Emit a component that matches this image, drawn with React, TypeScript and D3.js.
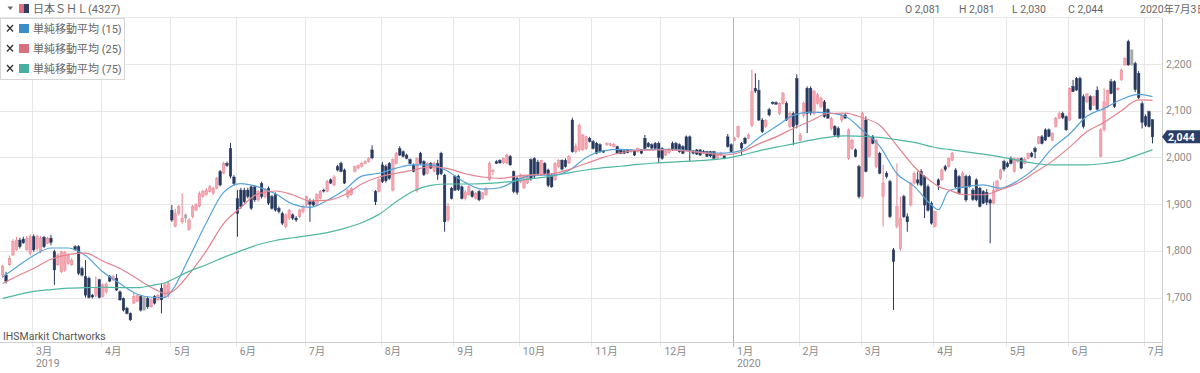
import React from "react";
import * as d3 from "d3";

type OHLC = [number, number, number, number]; // open, high, low, close

const feb2019: OHLC[] = [
  [1748,1770,1742,1766],[1748,1755,1730,1735],[1770,1790,1768,1784],[1791,1825,1789,1820],
  [1802,1830,1800,1823],[1823,1828,1805,1809],[1825,1830,1815,1817],[1802,1832,1800,1827],
  [1795,1835,1790,1830],
];
const mar2019: OHLC[] = [
  [1830,1835,1798,1802],[1805,1834,1800,1830],[1798,1832,1795,1827],[1829,1832,1806,1809],
  [1816,1830,1814,1827],[1827,1834,1812,1818],[1798,1802,1727,1759],[1770,1795,1768,1791],
  [1755,1800,1752,1798],[1759,1800,1755,1797],[1773,1795,1770,1791],[1770,1784,1768,1780],
  [1809,1812,1800,1802],[1809,1812,1748,1752],[1762,1766,1745,1748],[1745,1780,1700,1705],
  [1741,1745,1698,1700],[1705,1708,1698,1701],[1705,1745,1700,1720],[1738,1740,1698,1700],
];
const apr2019: OHLC[] = [
  [1702,1730,1700,1727],[1712,1732,1708,1729],[1745,1748,1733,1735],[1738,1748,1735,1745],
  [1741,1750,1714,1716],[1712,1715,1693,1695],[1698,1700,1670,1673],[1677,1680,1664,1666],
  [1666,1668,1650,1652],[1688,1710,1686,1702],[1692,1705,1690,1704],[1702,1705,1670,1673],
  [1700,1702,1672,1673],[1698,1702,1676,1680],[1680,1698,1678,1695],[1702,1705,1685,1688],
  [1695,1708,1692,1705],[1720,1730,1666,1695],[1702,1732,1700,1727],[1705,1735,1700,1730],
];
const may2019: OHLC[] = [
  [1887,1898,1862,1866],[1852,1890,1850,1880],[1880,1898,1876,1895],[1862,1923,1858,1870],
  [1877,1880,1860,1870],[1845,1870,1843,1866],[1873,1898,1870,1895],[1887,1902,1885,1898],
  [1895,1927,1893,1923],[1916,1930,1914,1927],[1920,1934,1918,1930],[1927,1941,1925,1937],
  [1923,1937,1920,1934],[1934,1958,1932,1955],[1970,1973,1938,1941],[1966,1991,1964,1987],
  [1987,1991,1980,1983],[2019,2031,1955,1960],[1958,1962,1940,1944],
];
const jun2019: OHLC[] = [
  [1912,1930,1830,1880],[1930,1935,1890,1895],[1930,1935,1902,1905],[1930,1935,1912,1916],
  [1937,1940,1888,1891],[1937,1940,1905,1909],[1909,1930,1905,1927],[1944,1948,1912,1916],
  [1916,1934,1912,1930],[1934,1938,1898,1902],[1916,1920,1888,1891],[1920,1925,1884,1887],
  [1891,1895,1880,1884],[1880,1884,1855,1859],[1852,1880,1848,1877],[1870,1890,1866,1887],
  [1877,1880,1866,1870],[1870,1874,1862,1866],[1873,1890,1870,1887],[1884,1898,1880,1895],
];
const jul2019: OHLC[] = [
  [1898,1918,1895,1916],[1905,1912,1862,1900],[1905,1910,1895,1898],[1898,1923,1895,1920],
  [1912,1930,1910,1927],[1930,1933,1925,1928],[1927,1952,1925,1948],[1952,1955,1943,1945],
  [1941,1962,1938,1958],[1980,1984,1970,1973],[1987,1991,1968,1970],[1973,1976,1943,1945],
  [1916,1932,1912,1930],[1920,1936,1918,1934],[1970,1982,1968,1980],[1977,1985,1975,1983],
  [1980,1990,1978,1987],[1987,1994,1985,1991],[1991,2000,1989,1998],[2016,2026,1996,1999],
  [1927,1930,1898,1905],[1927,1955,1925,1952],
];
const aug2019: OHLC[] = [
  [1984,1990,1945,1948],[1980,1985,1946,1950],[1987,1990,1952,1955],[1930,1998,1927,1995],
  [1987,2012,1985,2009],[2019,2024,2003,2005],[2012,2015,2000,2002],[2005,2008,1996,1998],
  [1995,1998,1985,1987],[1984,1987,1968,1970],[1930,2000,1925,1998],[2009,2012,1985,1987],
  [1991,1994,1960,1963],[1966,1990,1963,1987],[1987,1990,1975,1977],[1970,1991,1968,1988],
  [1987,1995,1952,1963],[2009,2012,1962,1965],[1962,1965,1841,1862],[1866,1902,1862,1895],
  [1934,1937,1910,1912],
];
const sep2019: OHLC[] = [
  [1959,1962,1928,1930],[1960,1963,1928,1931],[1937,1940,1910,1912],[1912,1930,1908,1926],
  [1920,1940,1918,1937],[1927,1930,1914,1916],[1912,1926,1910,1923],[1927,1930,1906,1909],
  [1912,1926,1910,1924],[1920,1936,1918,1934],[1952,1991,1950,1987],[1970,1975,1962,1972],
  [1991,1994,1986,1987],[1994,1996,1987,1988],[1988,2000,1986,1998],[1988,2008,1986,2005],
  [2002,2005,1982,1984],[1970,1972,1923,1927],[1955,1958,1920,1925],
];
const oct2019: OHLC[] = [
  [1948,1965,1945,1962],[1935,1962,1932,1960],[1945,1962,1943,1958],[1995,1998,1950,1955],
  [1998,2000,1955,1960],[1990,1995,1960,1965],[1962,1995,1960,1994],[1987,1990,1962,1965],
  [1973,1976,1936,1940],[1962,1966,1935,1937],[1952,1990,1950,1987],[1980,1996,1978,1994],
  [1994,1996,1972,1975],[1994,1998,1978,1980],[1988,2005,1986,2002],[2080,2085,2010,2012],
  [2012,2030,2008,2023],[2016,2072,2012,2069],[2016,2050,2014,2048],[2019,2046,2016,2044],
  [2041,2044,2032,2034],
];
const nov2019: OHLC[] = [
  [2034,2037,2017,2019],[2030,2033,2007,2009],[2027,2030,2010,2012],[2014,2016,2010,2011],
  [2027,2032,2025,2030],[2026,2031,2024,2029],[2023,2031,2021,2028],[2023,2025,2007,2009],
  [2016,2018,2007,2008],[2014,2016,2007,2009],[2016,2018,2009,2010],[2012,2018,2010,2016],
  [2014,2016,2003,2005],[2012,2021,2010,2019],[2016,2018,2007,2009],[2041,2048,2017,2019],
  [2030,2033,2021,2023],[2027,2030,2017,2020],[2030,2033,2017,2019],[2030,2034,1988,2000],
];
const dec2019: OHLC[] = [
  [2019,2022,1995,1998],[2005,2016,2003,2012],[2010,2020,2008,2016],[2030,2034,2014,2017],
  [2030,2033,2014,2016],[2027,2030,2010,2012],[2023,2026,2007,2009],[2044,2047,2014,2016],
  [2044,2047,1991,2012],[2014,2016,2007,2009],[2016,2018,2005,2007],[2016,2018,2003,2005],
  [2012,2016,2008,2010],[2012,2014,2001,2002],[2012,2014,2000,2003],[2012,2014,1996,1998],
  [1998,2010,1996,2005],[2005,2012,2002,2009],[2003,2005,1996,1998],[2044,2050,2021,2023],
  [2027,2030,2010,2012],
];
const jan2020: OHLC[] = [
  [2037,2044,2035,2041],[2044,2068,2042,2066],[2030,2033,2005,2020],[2041,2044,2028,2030],
  [2041,2052,2039,2048],[2069,2188,2065,2141],[2148,2180,2138,2142],[2144,2166,2078,2080],
  [2080,2084,2052,2055],[2066,2082,2063,2079],[2102,2106,2088,2091],[2118,2120,2113,2115],
  [2117,2120,2113,2114],[2094,2118,2090,2116],[2116,2140,2113,2137],[2116,2120,2078,2080],
  [2066,2098,2063,2094],[2094,2098,2026,2066],[2169,2178,2062,2070],
];
const feb2020: OHLC[] = [
  [2037,2052,2035,2048],[2090,2120,2085,2115],[2148,2152,2052,2094],[2148,2152,2090,2095],
  [2094,2145,2090,2141],[2116,2138,2113,2134],[2109,2130,2105,2127],[2119,2123,2085,2087],
  [2102,2105,2083,2084],[2062,2087,2058,2083],[2066,2069,2045,2048],[2062,2066,2042,2044],
  [2080,2095,2075,2090],[2091,2094,2083,2084],[1998,2062,1995,2059],[2019,2040,2016,2037],
  [2016,2019,2000,2002],[1980,1984,1912,1916],
];
const mar2020: OHLC[] = [
  [1916,2098,1912,2094],[2080,2088,1968,1970],[2002,2046,2000,2044],[2044,2048,2028,2030],
  [1980,2040,1977,2037],[2009,2012,1964,1966],[1916,1984,1852,1945],[1966,1970,1955,1959],
  [1948,1952,1870,1873],[1802,1806,1673,1777],[1852,1987,1848,1895],[1805,1916,1800,1870],
  [1916,1920,1870,1873],[1873,1880,1841,1862],[1898,1948,1895,1945],[1945,1970,1942,1966],
  [1952,1970,1940,1945],[1970,1975,1938,1941],[1959,1962,1870,1898],[1937,1942,1884,1887],
  [1902,1906,1856,1859],
];
const apr2020: OHLC[] = [
  [1852,1886,1850,1884],[1952,1955,1930,1941],[1952,1976,1950,1973],[1980,1984,1970,1974],
  [1980,2000,1978,1998],[1994,2012,1992,2009],[1973,1977,1934,1937],[1959,1962,1920,1923],
  [1937,1970,1935,1966],[1959,1963,1905,1909],[1959,1962,1935,1937],[1930,1934,1907,1910],
  [1952,1955,1906,1909],[1934,1937,1893,1895],[1927,1930,1900,1902],[1925,1932,1898,1904],
  [1909,1912,1816,1902],[1902,1948,1900,1930],[1930,1952,1928,1948],[1955,1975,1952,1973],
  [1991,1995,1970,1975],
];
const may2020: OHLC[] = [
  [1987,1991,1978,1980],[1998,2002,1985,1987],[1970,2000,1968,1998],[1991,2000,1989,1997],
  [1998,2000,1975,1977],[1987,2000,1985,1996],[1998,2010,1996,2009],[2009,2012,2000,2002],
  [2019,2023,1998,2012],[2030,2046,2028,2044],[2044,2048,2028,2030],[2059,2062,2035,2037],
  [2059,2062,2043,2045],[2037,2054,2035,2052],[2066,2087,2064,2084],[2084,2098,2082,2094],
  [2094,2098,2082,2085],[2087,2090,2057,2059],
];
const jun2020: OHLC[] = [
  [2080,2150,2078,2148],[2152,2166,2140,2141],[2169,2172,2143,2144],[2169,2173,2082,2084],
  [2130,2135,2062,2066],[2119,2137,2117,2136],[2130,2133,2100,2102],[2112,2132,2110,2130],
  [2144,2152,2100,2103],[2002,2062,2000,2059],[2059,2148,2055,2119],[2109,2145,2105,2144],
  [2162,2168,2135,2137],[2162,2165,2106,2109],[2145,2150,2143,2148],[2166,2190,2164,2187],
  [2198,2214,2196,2212],[2248,2252,2196,2198],[2230,2232,2196,2198],[2201,2205,2140,2145],
  [2180,2185,2125,2128],[2115,2120,2062,2075],
];
const jul2020: OHLC[] = [
  [2087,2092,2065,2069],[2098,2100,2064,2066],[2081,2081,2030,2044],
];

const monthCandles: OHLC[][] = [
  feb2019, mar2019, apr2019, may2019, jun2019, jul2019, aug2019, sep2019, oct2019,
  nov2019, dec2019, jan2020, feb2020, mar2020, apr2020, may2020, jun2020, jul2020,
];
const monthNames = ["2月","3月","4月","5月","6月","7月","8月","9月","10月","11月","12月","1月","2月","3月","4月","5月","6月","7月"];
const yearNames = ["","2019","","","","","","","","","","2020","","","","","",""];

const priceTicks = [1700, 1800, 1900, 2000, 2100, 2200];

// moving-average samples: trading-day position in the candle series -> value
const maDays = [0,4,9,14,19,24,29,34,39,44,47,49,54,59,64,69,74,79,84,89,94,99,104,109,114,119,124,129,134,139,144,149,154,159,164,169,174,179,184,189,194,199,204,209,214,219,224,229,234,239,244,249,254,259,264,269,271,274,279,284,289,294,299,304,309,314,319,324,329,333];
const ma15 = [1744,1765,1790,1806,1806,1790,1755,1730,1707,1700,1700,1714,1785,1860,1925,1944,1937,1922,1900,1893,1908,1930,1960,1966,1977,1984,1984,1970,1946,1932,1935,1952,1962,1962,1972,2000,2014,2017,2015,2017,2017,2014,2010,2009,2015,2042,2066,2090,2097,2095,2088,2058,2024,1965,1938,1898,1888,1928,1937,1941,1934,1950,1977,2020,2050,2088,2105,2124,2135,2130];
const ma25 = [1730,1745,1762,1782,1792,1795,1778,1762,1740,1718,1709,1712,1750,1800,1858,1893,1922,1928,1920,1907,1908,1920,1943,1958,1966,1973,1980,1976,1965,1958,1955,1960,1963,1965,1974,1987,2000,2010,2015,2016,2016,2013,2009,2005,2012,2029,2044,2062,2078,2094,2095,2085,2069,2025,1980,1948,1938,1930,1920,1920,1931,1945,1968,1992,2022,2055,2075,2100,2123,2122];
const ma75 = [1698,1705,1713,1717,1720,1721,1722,1721,1721,1727,1731,1738,1756,1770,1786,1800,1813,1822,1828,1833,1839,1848,1860,1878,1905,1928,1940,1943,1943,1944,1946,1950,1955,1960,1967,1973,1978,1981,1985,1988,1990,1992,1994,1998,2005,2014,2022,2029,2037,2043,2046,2045,2043,2038,2032,2023,2020,2017,2012,2007,2001,1994,1987,1984,1984,1984,1987,1993,2006,2016];
const maNames = ["単純移動平均 (15)", "単純移動平均 (25)", "単純移動平均 (75)"];

const title = "日本ＳＨＬ(4327)";
const quoteKeys = ["O", "H", "L", "C"];
const quoteValues = [2081, 2081, 2030, 2044];
const quoteDate = "2020年7月3日";
const credit = "IHSMarkit Chartworks";

const FONT = "Roboto, 'Noto Sans CJK JP', sans-serif";
const C = {
  up: "#f4a6b0",
  upLine: "#e8828f",
  down: "#27395f",
  flat: "#a9a9a9",
  ma: ["#55a3da", "#e4828f", "#4fb8a2"],
  legend: ["#3b8fc9", "#d8707f", "#47b0a0"],
  grid: "#e7e7e7",
  frame: "#cfcfcf",
  text: "#8a8a8a",
  dark: "#555",
  tag: "#2b3f66",
};

export default function App() {
  const W = 1200, H = 373;
  const plotR = 1162, plotT = 18, plotB = 342;
  const candles = monthCandles.flat();
  const N = candles.length;
  const monthStart: number[] = [];
  let acc = 0;
  monthCandles.forEach((m) => { monthStart.push(acc); acc += m.length; });

  const STEP = 3.453;
  const x = d3.scaleBand<number>()
    .domain(d3.range(N))
    .range([0.894, 0.894 + N * STEP])
    .paddingInner(0.25)
    .paddingOuter(0.125);
  const bw = x.bandwidth();
  const step = x.step();
  const cx = (k: number) => (x(k) as number) + bw / 2;
  const boundary = (k: number) => cx(k) - step / 2;

  const y = d3.scaleLinear().domain([1700, 2200]).range([297.5, 64]);

  const fmt = d3.format(",");
  const line = d3.line<number>()
    .x((_, j) => cx(maDays[j]))
    .y((d) => y(d))
    .curve(d3.curveMonotoneX);
  const maSeries = [ma15, ma25, ma75];

  const candleColor = (k: number) => {
    const [o, , , c] = candles[k];
    if (k > 0 && c === candles[k - 1][3]) return "flat";
    if (c > o) return "up";
    if (c < o) return "down";
    return "flat";
  };

  const last = candles[N - 1][3];
  const ty = y(last);

  return (
    <svg width={W} height={H} style={{ position: "absolute", left: 0, top: 0, background: "#fff" }} fontFamily={FONT}>
      <defs>
        <clipPath id="plot">
          <rect x={0} y={plotT} width={plotR} height={plotB - plotT} />
        </clipPath>
      </defs>
      <rect width={W} height={H} fill="#fff" />

      {/* grid */}
      <g>
        {priceTicks.map((p) => (
          <line key={p} x1={0} x2={plotR} y1={Math.round(y(p)) + 0.5} y2={Math.round(y(p)) + 0.5} stroke={C.grid} />
        ))}
        {monthStart.map((k, m) => {
          const bx = Math.round(boundary(k)) + 0.5;
          if (bx < 4) return null;
          return (
            <line key={m} x1={bx} x2={bx} y1={plotT} y2={plotB + 5}
              stroke={monthNames[m] === "1月" ? "#b3b3b3" : C.grid} />
          );
        })}
      </g>
      <line x1={0} x2={plotR} y1={plotT - 0.5} y2={plotT - 0.5} stroke={C.grid} />

      {/* candles & MAs */}
      <g clipPath="url(#plot)">
        {candles.map(([o, h, l, c], k) => {
          const kind = candleColor(k);
          const fill = kind === "up" ? C.up : kind === "down" ? C.down : C.flat;
          const stroke = kind === "up" ? C.upLine : fill;
          const top = y(Math.max(o, c));
          const hgt = Math.max(1, Math.abs(y(o) - y(c)));
          return (
            <g key={k}>
              <line x1={cx(k)} x2={cx(k)} y1={y(h)} y2={y(l)} stroke={stroke} strokeWidth={1} />
              <rect x={x(k)} y={top} width={bw} height={hgt} fill={fill} stroke={stroke} strokeWidth={0.4} />
            </g>
          );
        })}
        {maSeries.map((s, j) => (
          <path key={j} d={line(s) || ""} fill="none" stroke={C.ma[j]} strokeWidth={1.2} />
        ))}
      </g>

      {/* frame */}
      <line x1={0} x2={plotR} y1={plotB + 0.5} y2={plotB + 0.5} stroke={C.frame} />
      <line x1={plotR + 0.5} x2={plotR + 0.5} y1={plotT} y2={plotB + 5} stroke={C.frame} />

      {/* x axis labels */}
      {monthStart.map((k, m) => {
        const bx = boundary(k);
        if (bx < 4) return null;
        return (
          <g key={m}>
            <text x={bx + 4} y={355} fontSize={10.5} fill={C.text}>{monthNames[m]}</text>
            {yearNames[m] && <text x={bx + 4} y={367} fontSize={10.5} fill={C.text}>{yearNames[m]}</text>}
          </g>
        );
      })}

      {/* y axis labels */}
      {priceTicks.map((p) => (
        <text key={p} x={1166} y={y(p) + 3.5} fontSize={10.5} fill={C.text}>{fmt(p)}</text>
      ))}

      {/* last price tag */}
      <polygon points={`${plotR},${ty} ${plotR + 5},${ty - 6.5} ${W},${ty - 6.5} ${W},${ty + 6.5} ${plotR + 5},${ty + 6.5}`} fill={C.tag} />
      <text x={1168} y={ty + 3.8} fontSize={10.5} fontWeight="bold" fill="#fff">{fmt(last)}</text>

      {/* credit */}
      <text x={3} y={340} fontSize={10.5} fill={C.dark}>{credit}</text>

      {/* header */}
      <polygon points="7.5,6.5 13,6.5 10.25,10" fill="#666" />
      <rect x={19} y={4} width={5} height={9} fill="#e36d7d" />
      <rect x={24} y={4} width={5} height={9} fill={C.tag} />
      <text x={33} y={12.5} fontSize={11} fill="#666">{title}</text>
      {quoteKeys.map((key, j) => (
        <text key={key} x={[905, 959, 1012, 1068][j]} y={12.5} fontSize={10.5} fill="#666">
          {`${key} ${fmt(quoteValues[j])}`}
        </text>
      ))}
      <text x={1140} y={12.5} fontSize={10.5} fill="#666">{quoteDate}</text>

      {/* legend */}
      <rect x={0.5} y={18.5} width={124} height={61} fill="#fff" stroke="#d6d6d6" />
      {maNames.map((name, j) => {
        const ry = 28.5 + j * 20;
        return (
          <g key={name}>
            <path d={`M7,${ry - 3.5} L13,${ry + 3} M13,${ry - 3.5} L7,${ry + 3}`} stroke="#333" strokeWidth={1.3} />
            <rect x={19} y={ry - 4.5} width={10} height={9} fill={C.legend[j]} />
            <text x={33} y={ry + 4} fontSize={11} fill="#666">{name}</text>
          </g>
        );
      })}
    </svg>
  );
}
